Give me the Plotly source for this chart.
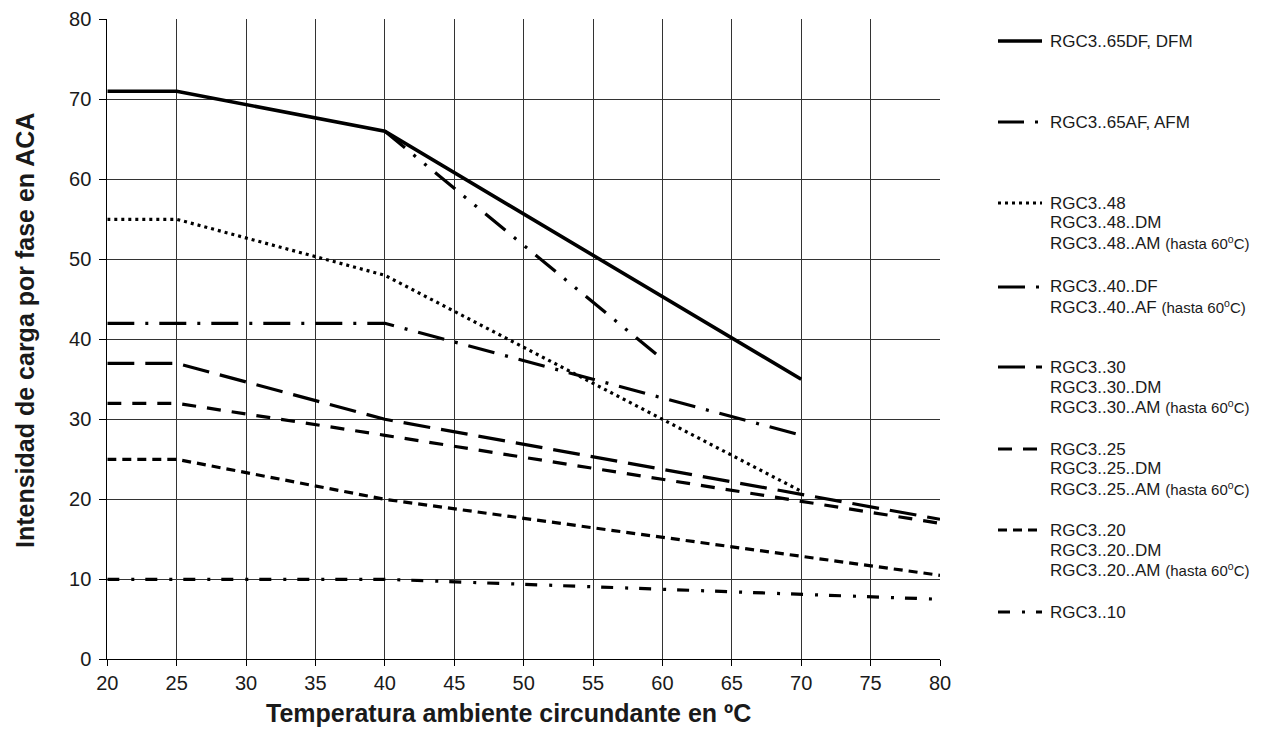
import plotly.graph_objects as go

# ---------------- data ----------------
SERIES_NAMES = [
    "RGC3..65DF, DFM",
    "RGC3..65AF, AFM",
    "RGC3..48",
    "RGC3..40..DF",
    "RGC3..30",
    "RGC3..25",
    "RGC3..20",
    "RGC3..10",
]
HASTA = " <span style='font-size:15px'>(hasta 60<sup>o</sup>C)</span>"
LEGEND_LINES = [
    ["RGC3..65DF, DFM"],
    ["RGC3..65AF, AFM"],
    ["RGC3..48", "RGC3..48..DM", "RGC3..48..AM" + HASTA],
    ["RGC3..40..DF", "RGC3..40..AF" + HASTA],
    ["RGC3..30", "RGC3..30..DM", "RGC3..30..AM" + HASTA],
    ["RGC3..25", "RGC3..25..DM", "RGC3..25..AM" + HASTA],
    ["RGC3..20", "RGC3..20..DM", "RGC3..20..AM" + HASTA],
    ["RGC3..10"],
]

x_65df = [20, 25, 40, 70]
y_65df = [71, 71, 66, 35]

x_65af = [40, 60]
y_65af = [66, 37.5]

x_48 = [20, 25, 40, 60, 70]
y_48 = [55, 55, 48, 30, 21]

x_40 = [20, 25, 40, 70]
y_40 = [42, 42, 42, 28]

x_30 = [20, 25, 40, 80]
y_30 = [37, 37, 30, 17.5]

x_25 = [20, 25, 40, 80]
y_25 = [32, 32, 28, 17]

x_20 = [20, 25, 40, 80]
y_20 = [25, 25, 20, 10.5]

x_10 = [20, 25, 40, 80]
y_10 = [10, 10, 10, 7.5]

X_TICKS = list(range(20, 81, 5))
Y_TICKS = list(range(0, 81, 10))

X_TITLE = "Temperatura ambiente circundante en ºC"
Y_TITLE = "Intensidad de carga por fase en ACA"

# ---------------- styles / layout constants ----------------
W, H = 1263, 738
FONT = "Liberation Sans, Arial, sans-serif"

STYLES = [
    dict(width=3.6, dash="solid"),
    dict(width=3.2, dash="26px,11px,3px,11px,3px,11px"),
    dict(width=3.2, dash="3px,4px"),
    dict(width=3.2, dash="27px,11px,3px,11px"),
    dict(width=3.2, dash="27px,11px"),
    dict(width=3.2, dash="14px,11px"),
    dict(width=3.2, dash="9px,6px"),
    dict(width=3.2, dash="12px,12px,3px,11px"),
]

XS = [x_65df, x_65af, x_48, x_40, x_30, x_25, x_20, x_10]
YS = [y_65df, y_65af, y_48, y_40, y_30, y_25, y_20, y_10]

# plot area in pixels
PL, PR, PT, PB = 107.3, 940.0, 19.3, 659.3

# legend layout (pixels)
LEG_X0, LEG_X1, LEG_TX = 998, 1042, 1048
LEG_Y = [41, 122, 203, 287, 367, 449, 530, 612]
LEG_DY = 20

fig = go.Figure()

for name, xs, ys, st in zip(SERIES_NAMES, XS, YS, STYLES):
    fig.add_trace(go.Scatter(
        x=xs, y=ys, mode="lines", name=name,
        line=dict(color="black", width=st["width"], dash=st["dash"]),
        showlegend=False, hoverinfo="x+y+name",
        xaxis="x", yaxis="y",
    ))

# legend samples on a hidden pixel-scaled axis
for name, st, ly in zip(SERIES_NAMES, STYLES, LEG_Y):
    fig.add_trace(go.Scatter(
        x=[LEG_X0, LEG_X1], y=[ly, ly], mode="lines", name=name,
        line=dict(color="black", width=st["width"], dash=st["dash"]),
        showlegend=False, hoverinfo="skip",
        xaxis="x2", yaxis="y2",
    ))

annotations = []
for lines, ly in zip(LEGEND_LINES, LEG_Y):
    for i, t in enumerate(lines):
        annotations.append(dict(
            text=t, xref="paper", yref="paper",
            x=LEG_TX / W, y=1 - (ly + i * LEG_DY) / H,
            xanchor="left", yanchor="middle", showarrow=False,
            font=dict(family=FONT, size=17, color="#1a1a1a"),
        ))

annotations.append(dict(
    text="<b>" + X_TITLE + "</b>", xref="paper", yref="paper",
    x=509 / W, y=1 - 713 / H, xanchor="center", yanchor="middle",
    showarrow=False, font=dict(family=FONT, size=25, color="#1a1a1a"),
))
annotations.append(dict(
    text="<b>" + Y_TITLE + "</b>", xref="paper", yref="paper",
    x=25 / W, y=1 - 331 / H, xanchor="center", yanchor="middle",
    textangle=-90, showarrow=False,
    font=dict(family=FONT, size=25, color="#1a1a1a"),
))

GRID = "#333333"
fig.update_layout(
    width=W, height=H,
    margin=dict(l=0, r=0, t=0, b=0, autoexpand=False),
    paper_bgcolor="white", plot_bgcolor="rgba(0,0,0,0)",
    font=dict(family=FONT, size=20, color="#1a1a1a"),
    showlegend=False,
    annotations=annotations,
    xaxis=dict(
        domain=[PL / W, PR / W], range=[20, 80],
        tickmode="array", tickvals=X_TICKS, ticktext=[str(v) for v in X_TICKS],
        showgrid=True, gridcolor=GRID, gridwidth=1,
        zeroline=False, showline=True, linecolor="black", linewidth=1,
        ticks="outside", ticklen=6, tickcolor="black", tickwidth=1,
        tickfont=dict(family=FONT, size=20, color="#1a1a1a"),
        automargin=False, fixedrange=True,
    ),
    yaxis=dict(
        domain=[1 - PB / H, 1 - PT / H], range=[0, 80],
        tickmode="array", tickvals=Y_TICKS, ticktext=[str(v) for v in Y_TICKS],
        showgrid=True, gridcolor=GRID, gridwidth=1,
        zeroline=False, showline=True, linecolor="black", linewidth=1,
        ticks="outside", ticklen=7, tickcolor="black", tickwidth=1,
        ticklabelstandoff=4,
        tickfont=dict(family=FONT, size=20, color="#1a1a1a"),
        automargin=False, fixedrange=True,
    ),
    xaxis2=dict(
        domain=[0.78, 1.0], range=[0.78 * W, W], visible=False,
        fixedrange=True, anchor="y2",
    ),
    yaxis2=dict(
        domain=[0, 1], range=[H, 0], visible=False,
        fixedrange=True, anchor="x2",
    ),
)

fig.write_html("out.html")
